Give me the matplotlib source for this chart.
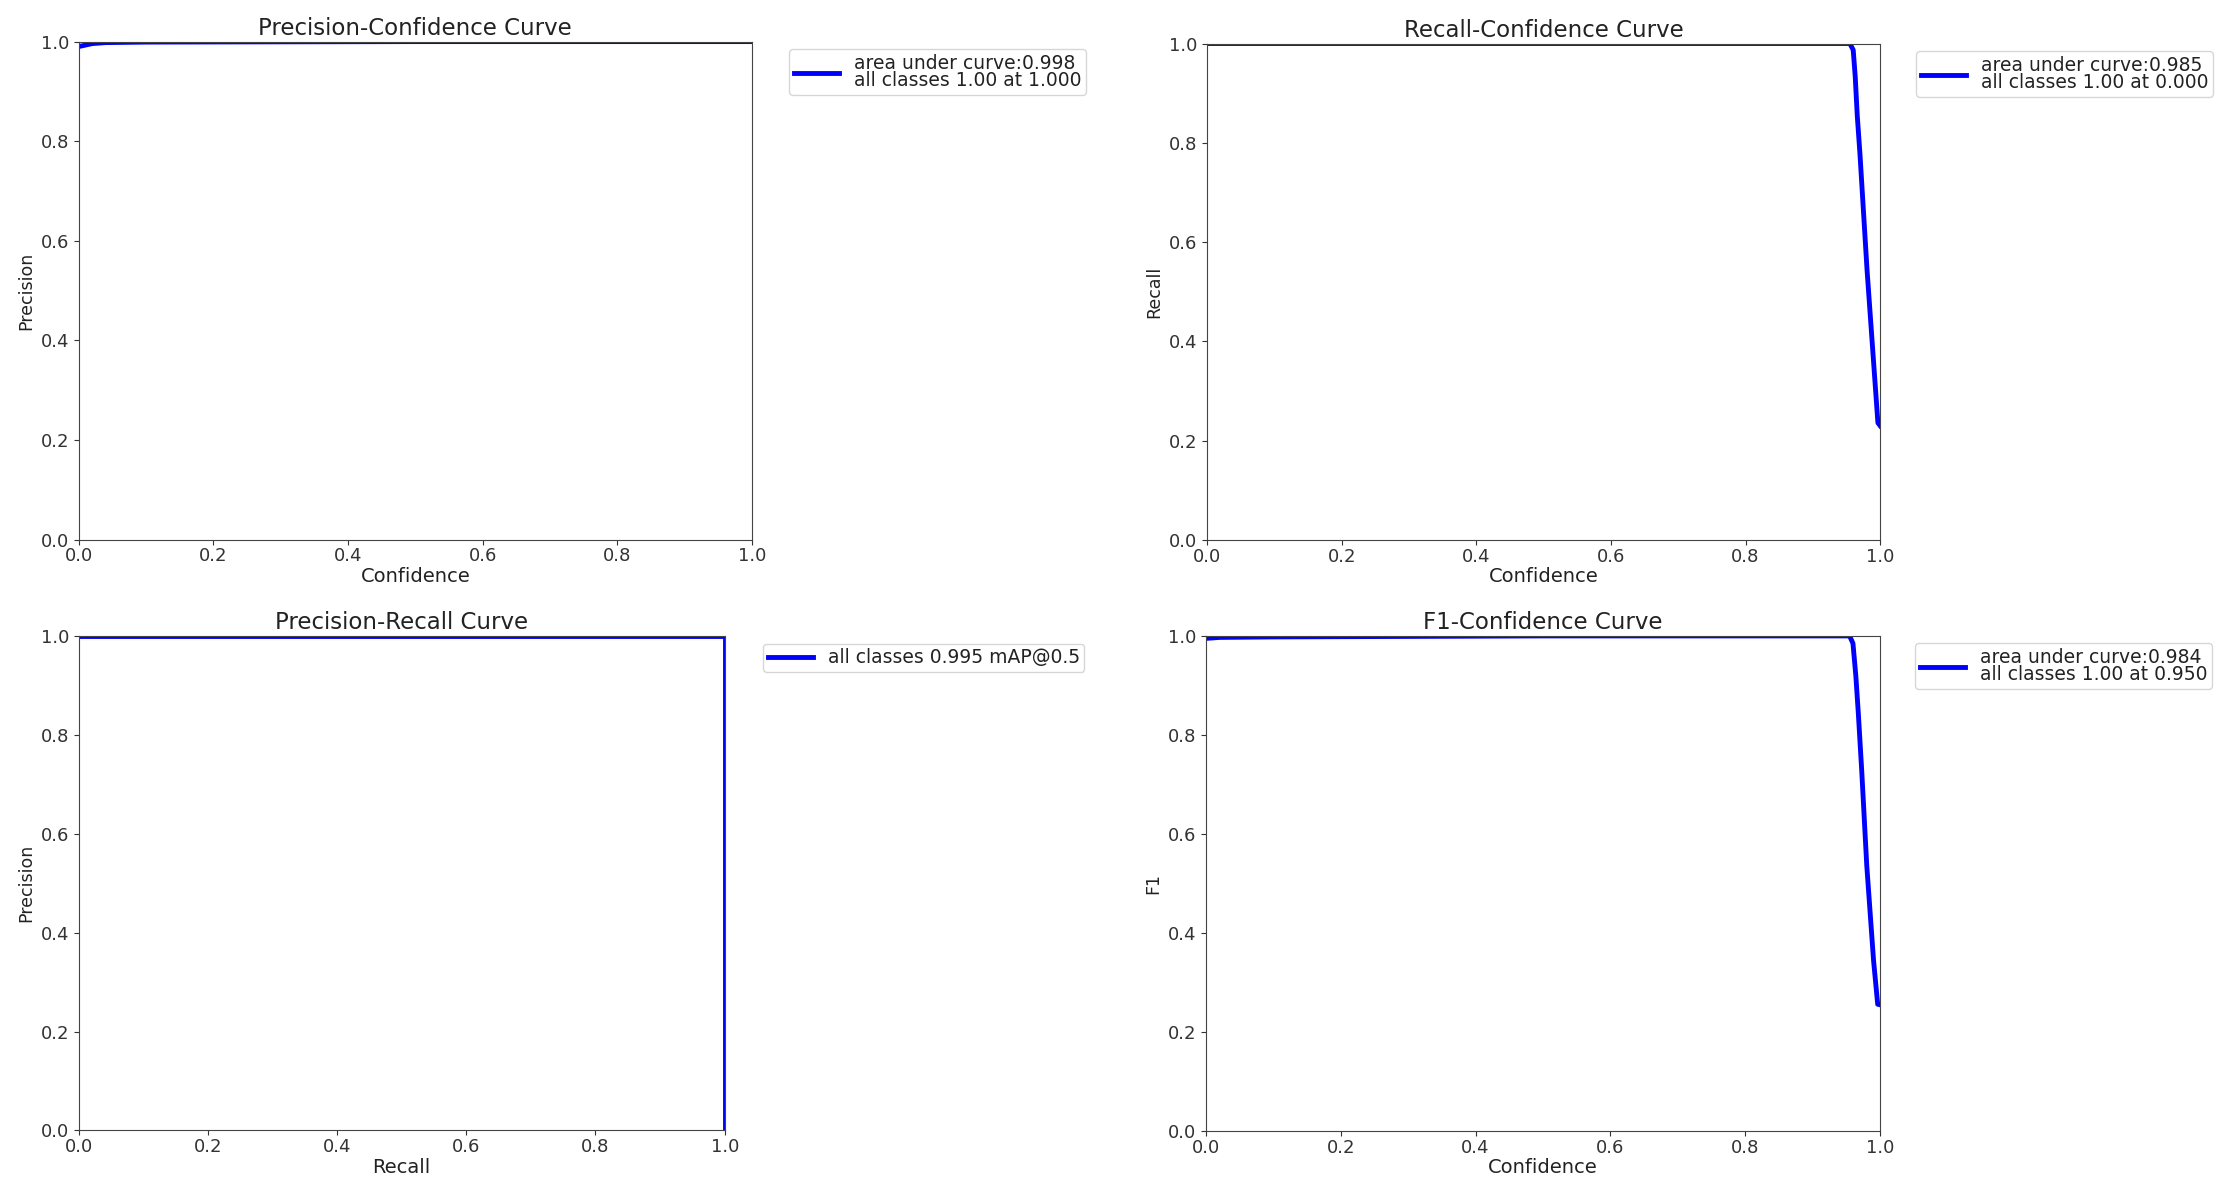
import matplotlib.pyplot as plt

# precision vs confidence
pc_conf = [0.0, 0.01, 0.02, 0.04, 0.1, 0.5, 1.0]
pc_prec = [0.99, 0.993, 0.996, 0.998, 0.999, 1.0, 1.0]

# recall vs confidence
rc_conf = [0.0, 0.5, 0.955, 0.960, 0.963, 0.966, 0.970, 0.9805, 0.9906, 0.9967, 1.0]
rc_rec = [1.0, 1.0, 1.0, 0.987, 0.933, 0.855, 0.778, 0.545, 0.352, 0.236, 0.23]

# precision vs recall
pr_rec = [0.0, 0.5, 0.999, 1.0, 1.0]
pr_prec = [1.0, 1.0, 1.0, 1.0, 0.0]

# f1 vs confidence
f1_conf = [0.0, 0.02, 0.1, 0.5, 0.955, 0.960, 0.9643, 0.968, 0.973, 0.9805, 0.9906, 0.9967, 1.0]
f1_val = [0.995, 0.997, 0.998, 1.0, 1.0, 0.985, 0.919, 0.843, 0.728, 0.536, 0.344, 0.256, 0.255]

titles = ["Precision-Confidence Curve", "Recall-Confidence Curve",
          "Precision-Recall Curve", "F1-Confidence Curve"]
xlabels = ["Confidence", "Confidence", "Recall", "Confidence"]
ylabels = ["Precision", "Recall", "Precision", "F1"]
legend_labels = ["area under curve:0.998\nall classes 1.00 at 1.000",
                 "area under curve:0.985\nall classes 1.00 at 0.000",
                 "all classes 0.995 mAP@0.5",
                 "area under curve:0.984\nall classes 1.00 at 0.950"]

xs = [pc_conf, rc_conf, pr_rec, f1_conf]
ys = [pc_prec, rc_rec, pr_prec, f1_val]

# axes boxes [left, bottom, width, height] in figure fractions
boxes = [[0.0352, 0.5473, 0.3014, 0.4178],
         [0.5403, 0.5470, 0.3013, 0.4165],
         [0.0352, 0.0516, 0.2892, 0.4148],
         [0.5398, 0.0512, 0.3017, 0.4153]]
legend_pos = [(0.3532, 0.9589), (0.8577, 0.9572), (0.3415, 0.4600), (0.8572, 0.4606)]

fig = plt.figure(figsize=(22.34, 11.92), dpi=100)

for i in range(4):
    ax = fig.add_axes(boxes[i])
    ax.plot(xs[i], ys[i], color="blue", linewidth=3.5, label=legend_labels[i])
    ax.set_xlim(0, 1)
    ax.set_ylim(0, 1)
    ax.set_title(titles[i], fontsize=16.5, color="#222222", pad=5)
    ax.set_xlabel(xlabels[i], fontsize=14, color="#222222", labelpad=1)
    ax.set_ylabel(ylabels[i], fontsize=12.5, color="#222222")
    ax.tick_params(labelsize=13, colors="#333333")
    ax.tick_params(axis="x", pad=2)
    for s in ax.spines.values():
        s.set_color("#444444")
    leg = ax.legend(loc="upper left", bbox_to_anchor=legend_pos[i],
                    bbox_transform=fig.transFigure, borderaxespad=0,
                    fontsize=13.5, handlelength=2.4, borderpad=0.25,
                    handletextpad=0.8)
    for t in leg.get_texts():
        t.set_linespacing(0.9)
        t.set_color("#222222")

plt.savefig("out.png")
